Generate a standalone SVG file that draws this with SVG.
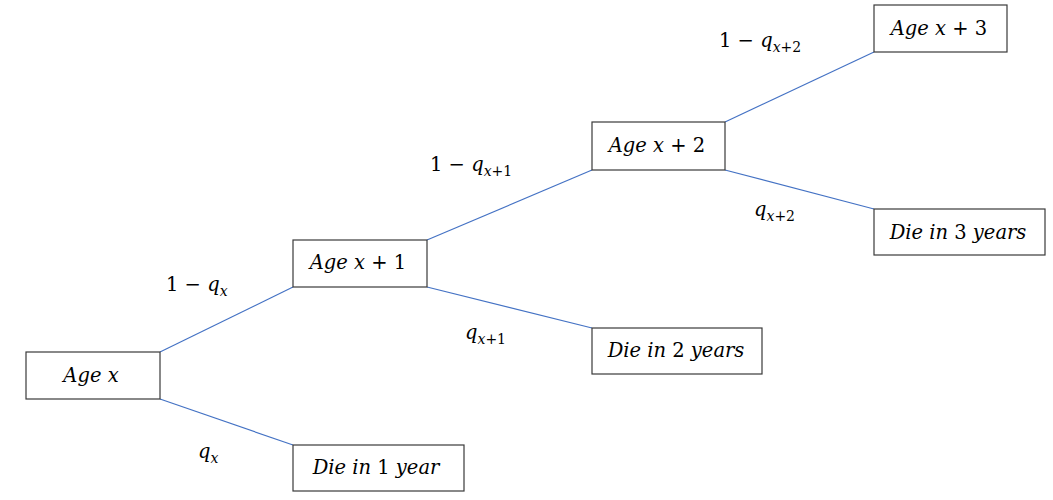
<svg xmlns="http://www.w3.org/2000/svg" width="1053" height="500" viewBox="0 0 1053 500">
<style>
.box{fill:#fff;stroke:#3a3a3a;stroke-width:1.2}
.t{font-family:"DejaVu Serif","Liberation Serif",serif;font-size:19.5px;fill:#000;text-anchor:middle}
.l{font-family:"DejaVu Serif","Liberation Serif",serif;font-size:19.5px;fill:#000}
.i{font-style:italic}
.s{font-size:14px}
.c{stroke:#4472C4;stroke-width:1.2;fill:none}
</style>
<rect width="1053" height="500" fill="#fff"/>
<g id="connectors">
<line class="c" x1="160" y1="352" x2="293" y2="287"/>
<line class="c" x1="160" y1="399" x2="293" y2="445"/>
<line class="c" x1="427" y1="240" x2="592" y2="170"/>
<line class="c" x1="427" y1="287" x2="592" y2="328"/>
<line class="c" x1="725" y1="122" x2="874" y2="52"/>
<line class="c" x1="725" y1="170" x2="874" y2="209"/>
</g>
<g id="labels">
<text class="l" x="166" y="291">1 − <tspan class="i">q</tspan><tspan class="i s" dy="5">x</tspan></text>
<text class="l" x="198" y="458"><tspan class="i">q</tspan><tspan class="i s" dy="5">x</tspan></text>
<text class="l" x="430" y="171">1 − <tspan class="i">q</tspan><tspan class="s" dy="5"><tspan class="i">x</tspan>+1</tspan></text>
<text class="l" x="465" y="339"><tspan class="i">q</tspan><tspan class="s" dy="5"><tspan class="i">x</tspan>+1</tspan></text>
<text class="l" x="719" y="47">1 − <tspan class="i">q</tspan><tspan class="s" dy="5"><tspan class="i">x</tspan>+2</tspan></text>
<text class="l" x="754" y="216"><tspan class="i">q</tspan><tspan class="s" dy="5"><tspan class="i">x</tspan>+2</tspan></text>
</g>
<g id="n-agex">
<rect class="box" x="26" y="352" width="134" height="47"/>
<text class="t i" x="91" y="382">Age x</text>
</g>
<g id="n-die1">
<rect class="box" x="293" y="445" width="171" height="46"/>
<text class="t" x="376" y="474"><tspan class="i">Die in </tspan>1<tspan class="i"> year</tspan></text>
</g>
<g id="n-agex1">
<rect class="box" x="293" y="240" width="134" height="47"/>
<text class="t" x="358" y="269"><tspan class="i">Age x</tspan> + 1</text>
</g>
<g id="n-die2">
<rect class="box" x="592" y="328" width="170" height="46"/>
<text class="t" x="676" y="357"><tspan class="i">Die in </tspan>2<tspan class="i"> years</tspan></text>
</g>
<g id="n-agex2">
<rect class="box" x="592" y="122" width="133" height="48"/>
<text class="t" x="657" y="152"><tspan class="i">Age x</tspan> + 2</text>
</g>
<g id="n-die3">
<rect class="box" x="874" y="209" width="171" height="46"/>
<text class="t" x="958" y="239"><tspan class="i">Die in </tspan>3<tspan class="i"> years</tspan></text>
</g>
<g id="n-agex3">
<rect class="box" x="874" y="5" width="133" height="47"/>
<text class="t" x="939" y="35"><tspan class="i">Age x</tspan> + 3</text>
</g>
</svg>
